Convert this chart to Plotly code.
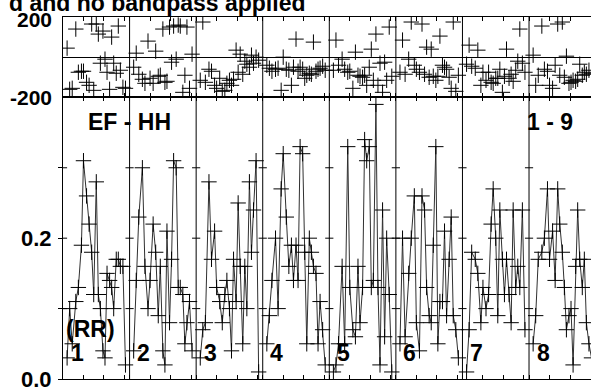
import plotly.graph_objects as go

# Tempi di campionamento (ore dall'inizio) comuni a tutte le baseline
times = [0.8, 1.3, 1.8, 2.5, 3.0, 3.6, 4.0, 4.6, 5.1, 5.6, 6.0, 6.5, 6.9,
         7.3, 7.8, 8.2, 8.6, 9.1, 9.5, 9.9, 10.4, 10.8, 11.2, 11.7, 12.2]

baselines = ["1", "2", "3", "4", "5", "6", "7", "8"]

# Ampiezze (Jy) per baseline
amp_1 = [0.03, 0.10, 0.05, 0.11, 0.13, 0.19, 0.31, 0.26, 0.22, 0.18, 0.12, 0.28, 0.12,
         0.10, 0.04, 0.03, 0.15, 0.14, 0.13, 0.10, 0.17, 0.17, 0.16, 0.16, 0.02]
amp_2 = [0.04, 0.14, 0.23, 0.30, 0.16, 0.10, 0.14, 0.22, 0.18, 0.09, 0.16, 0.04, 0.02,
         0.21, 0.08, 0.17, 0.31, 0.30, 0.13, 0.13, 0.12, 0.05, 0.08, 0.11, 0.04]
amp_3 = [0.03, 0.07, 0.08, 0.28, 0.17, 0.21, 0.13, 0.11, 0.08, 0.12, 0.14, 0.10, 0.04,
         0.17, 0.11, 0.25, 0.16, 0.05, 0.16, 0.10, 0.28, 0.18, 0.24, 0.31, 0.01]
amp_4 = [0.05, 0.09, 0.14, 0.20, 0.10, 0.27, 0.32, 0.23, 0.16, 0.19, 0.14, 0.19, 0.14,
         0.33, 0.32, 0.18, 0.05, 0.20, 0.18, 0.16, 0.15, 0.05, 0.11, 0.07, 0.02]
amp_5 = [0.01, 0.02, 0.05, 0.16, 0.05, 0.33, 0.13, 0.07, 0.06, 0.16, 0.08, 0.13, 0.34,
         0.31, 0.33, 0.13, 0.14, 0.39, 0.13, 0.02, 0.24, 0.06, 0.20, 0.12, 0.01]
amp_6 = [0.05, 0.20, 0.06, 0.15, 0.20, 0.26, 0.08, 0.04, 0.26, 0.24, 0.13, 0.09, 0.08,
         0.19, 0.33, 0.05, 0.11, 0.11, 0.21, 0.09, 0.17, 0.23, 0.09, 0.07, 0.03]
amp_7 = [0.01, 0.07, 0.18, 0.17, 0.15, 0.08, 0.13, 0.10, 0.12, 0.22, 0.27, 0.20, 0.09,
         0.24, 0.17, 0.12, 0.17, 0.12, 0.08, 0.24, 0.13, 0.16, 0.13, 0.24, 0.07]
amp_8 = [0.05, 0.09, 0.17, 0.18, 0.20, 0.27, 0.17, 0.21, 0.14, 0.27, 0.22, 0.18, 0.13,
         0.07, 0.09, 0.10, 0.02, 0.16, 0.24, 0.17, 0.13, 0.17, 0.08, 0.05, 0.03]

# Fasi (gradi) per baseline
phase_1 = [45, -160, -155, 140, -75, -70, -70, -125, -140, 165, -165, 165, 115,
           -30, 130, -10, -75, -160, 100, -30, -80, 155, -65, -150, -155]
phase_2 = [-50, 20, -85, -110, -130, 80, -105, -130, 30, -95, -90, 140, -125,
           -120, 150, -25, 155, -10, 160, 155, -175, -90, 150, -155, 15]
phase_3 = [-115, 175, -125, -60, -70, -140, -155, -105, -170, -165, -130, -115, -140,
           -110, 35, -75, 15, -85, -20, -35, -50, 10, -30, 0, -15]
phase_4 = [-40, -55, -70, -60, -55, -165, 0, -60, -65, -140, -50, 90, -70,
           -50, -60, -105, -90, -80, -85, 75, -70, -60, -55, -45, -65]
phase_5 = [-65, 85, -40, -10, -60, -75, -70, -155, 25, -90, -95, -100, -90,
           -140, -50, 40, -115, 115, -140, -30, -175, -25, -115, 150, -95]
phase_6 = [-75, 85, -85, -10, 175, -40, -60, -75, 165, -85, 50, -100, 40,
           -95, -115, -95, 105, -40, -50, -60, -100, -155, 175, -170, -90]
phase_7 = [-35, 60, -45, -55, 35, -140, -75, -115, -75, -125, -130, -105, -105,
           -60, -175, -95, 40, -105, -85, -120, -65, -20, 140, -30, -75]
phase_8 = [10, -140, -90, 155, -60, -70, -140, -155, -40, 165, -90, 175, -100,
           5, -130, -125, -115, -120, -110, -35, -90, -75, -85, -65, -80]

amps = [amp_1, amp_2, amp_3, amp_4, amp_5, amp_6, amp_7, amp_8]
phases = [phase_1, phase_2, phase_3, phase_4, phase_5, phase_6, phase_7, phase_8]

seg_h = 13.0          # ore per pannello di baseline
x_max = 103.1         # il grafico originale e' tagliato a destra
FONT = "Liberation Sans, Arial, sans-serif"

cross = dict(symbol="cross-thin", size=11, line=dict(width=1, color="black"))

fig = go.Figure()

for i, bl in enumerate(baselines):
    xs = [i * seg_h + t for t in times]
    fig.add_trace(go.Scatter(
        x=xs, y=amps[i], mode="lines+markers",
        line=dict(color="#303030", width=1), marker=cross,
        xaxis="x", yaxis="y", name=bl,
    ))
    fig.add_trace(go.Scatter(
        x=xs, y=phases[i], mode="markers", marker=cross,
        xaxis="x2", yaxis="y2", name=bl,
    ))

tickv = [i * seg_h + h for i in range(8) for h in (0, 4, 8, 12)]

xax = dict(range=[0, x_max], tickvals=tickv, ticks="inside", ticklen=4,
           tickcolor="black", showticklabels=False, showline=True,
           linecolor="black", linewidth=1, mirror="ticks",
           showgrid=False, zeroline=False)

shapes = []
# separatori tra le baseline
for i in range(1, 8):
    shapes.append(dict(type="line", xref="x", yref="paper", x0=i * seg_h, x1=i * seg_h,
                       y0=0, y1=1, line=dict(color="black", width=1)))
# tacche sui separatori
for i in range(0, 8):
    for v in (0.1, 0.2, 0.3):
        shapes.append(dict(type="line", xref="x", yref="y", x0=i * seg_h - 0.8,
                           x1=i * seg_h + 0.8, y0=v, y1=v,
                           line=dict(color="black", width=1)))

def px_x(p):
    return (p - 63) / 528

def px_y(p):
    return (382 - p) / 365

big = dict(family=FONT, size=23, color="black")
mid = dict(family=FONT, size=21, color="black")
annotations = [
    dict(text="<b>d and no bandpass applied</b>", xref="paper", yref="paper",
         x=px_x(307), y=px_y(3), xanchor="right", yanchor="middle", showarrow=False, font=big),
    dict(text="<b>EF - HH</b>", xref="paper", yref="paper",
         x=px_x(86), y=px_y(123), xanchor="left", yanchor="middle", showarrow=False, font=big),
    dict(text="<b>1 - 9</b>", xref="paper", yref="paper",
         x=px_x(525), y=px_y(123), xanchor="left", yanchor="middle", showarrow=False, font=big),
    dict(text="<b>(RR)</b>", xref="paper", yref="paper",
         x=px_x(64), y=px_y(332), xanchor="left", yanchor="middle", showarrow=False, font=big),
    dict(text="<b>200</b>", xref="paper", yref="paper",
         x=px_x(54), y=px_y(20), xanchor="right", yanchor="middle", showarrow=False, font=mid),
    dict(text="<b>-200</b>", xref="paper", yref="paper",
         x=px_x(54), y=px_y(98), xanchor="right", yanchor="middle", showarrow=False, font=mid),
]
for i, bl in enumerate(baselines):
    annotations.append(dict(text="<b>" + bl + "</b>", xref="x", yref="paper",
                            x=i * seg_h + 2.75, y=px_y(356), xanchor="center",
                            yanchor="middle", showarrow=False, font=big))

fig.update_layout(
    width=591, height=392,
    margin=dict(l=63, r=0, t=17, b=10),
    plot_bgcolor="white", paper_bgcolor="white",
    showlegend=False,
    xaxis=dict(xax, anchor="y"),
    xaxis2=dict(xax, anchor="y2", matches="x"),
    yaxis=dict(domain=[0, 0.778], range=[0, 0.4], tickvals=[0, 0.1, 0.2, 0.3],
               ticktext=["0.0", "", "0.2", ""], ticks="outside", ticklen=4,
               tickcolor="black", showline=True, linecolor="black", linewidth=1,
               showgrid=False, zeroline=False, ticklabelstandoff=2,
               ticklabeloverflow="allow",
               tickfont=dict(family=FONT, size=22, color="black", weight="bold")),
    yaxis2=dict(domain=[0.778, 1], range=[-200, 200], tickvals=[-200, 200],
                showticklabels=False, ticks="", showline=True, linecolor="black",
                linewidth=1, showgrid=False, zeroline=True, zerolinecolor="black",
                zerolinewidth=1),
    shapes=shapes,
    annotations=annotations,
)

# niente margine del body, il grafico parte dall'angolo della pagina
fig.write_html("out.html", config={"displayModeBar": False},
               post_script="document.body.style.margin='0';")
